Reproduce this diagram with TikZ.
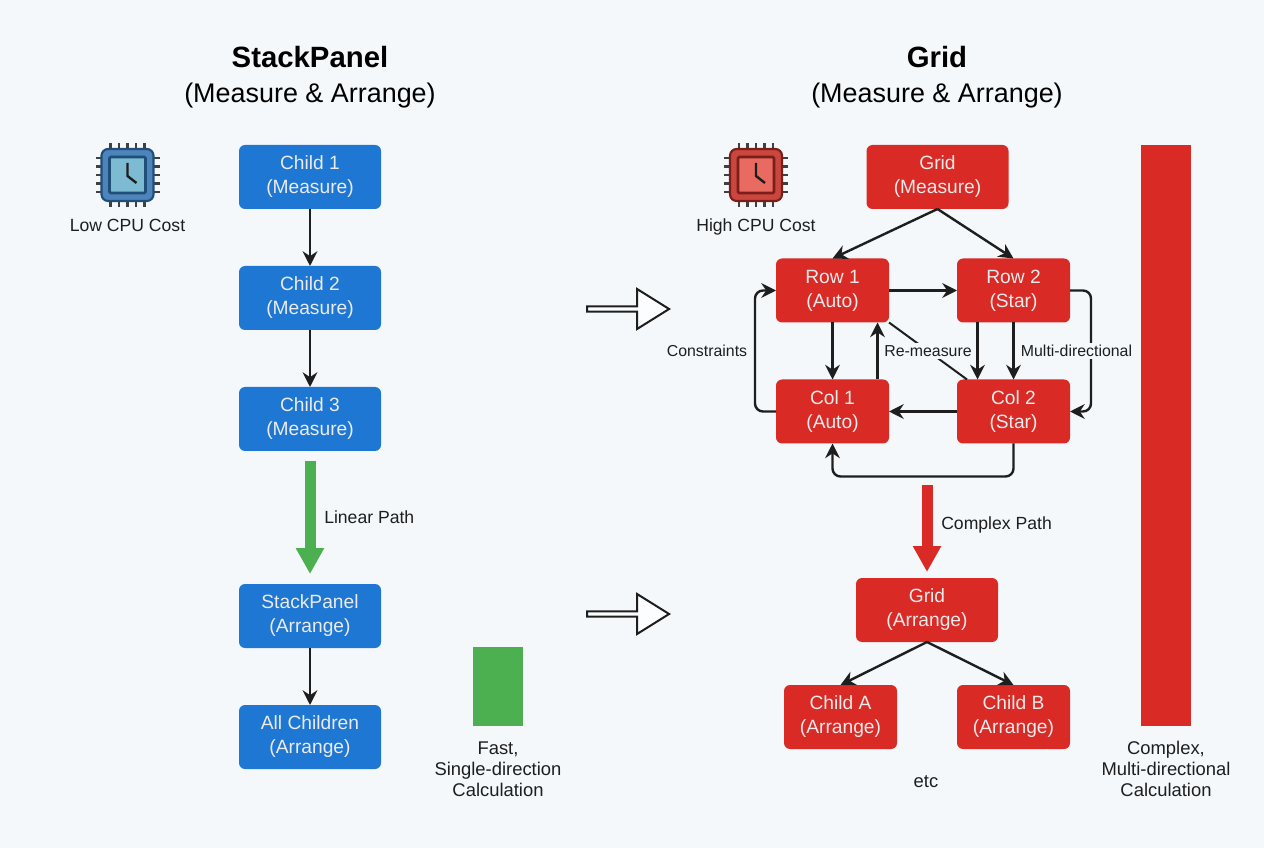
\documentclass[tikz,border=0pt]{standalone}
\usepackage{fontspec}
\setmainfont{Liberation Sans}
\usetikzlibrary{positioning,arrows.meta,shapes.arrows,calc}
\definecolor{pagebg}{HTML}{F4F8FB}
\definecolor{stackblue}{HTML}{1F77D4}
\definecolor{gridred}{HTML}{DA2A26}
\definecolor{fastgreen}{HTML}{4CAF50}
\definecolor{inkdark}{HTML}{1E1E1E}
\definecolor{chipblue}{HTML}{4D84BC}
\definecolor{chipblueedge}{HTML}{1F4E79}
\definecolor{chipbluein}{HTML}{7DBBD3}
\definecolor{chipred}{HTML}{C9473F}
\definecolor{chipredged}{HTML}{7B1E19}
\definecolor{chipredin}{HTML}{E96A60}
\newcommand{\headtext}[1]{{\bfseries\fontsize{22}{26.25}\selectfont #1}}
\tikzset{
  box/.style={rectangle, rounded corners=4.5pt, minimum height=48pt, inner sep=0pt, outer sep=0pt, align=center,
    text=white!92!black, font=\fontsize{14.4}{18}\selectfont,
    execute at begin node={\leavevmode\rule{0pt}{14pt}}},
  bluebox/.style={box, fill=stackblue, minimum width=106.5pt},
  redbox/.style={box, fill=gridred, minimum width=84.75pt},
  widebox/.style={redbox, minimum width=106.5pt},
  lbl/.style={text=inkdark, align=center, inner sep=0pt, font=\fontsize{13.2}{15.75}\selectfont},
  notelbl/.style={lbl, font=\fontsize{13.8}{15.75}\selectfont},
  smalllbl/.style={lbl, font=\fontsize{11.9}{14}\selectfont},
  gaplbl/.style={smalllbl, fill=pagebg, inner ysep=2pt, inner xsep=1pt},
  conn/.style={draw=inkdark, line width=1.8pt, -{Stealth[length=11pt,width=11pt]}},
  plainconn/.style={draw=inkdark, line width=1.5pt},
  loopconn/.style={conn, rounded corners=6pt},
  bigarrow/.style={line width=8.25pt, -{Triangle[length=19.5pt,width=20pt]}},
  hollow/.style={single arrow, draw=inkdark, fill=white!70!pagebg, line width=1.5pt, inner sep=0pt,
    minimum width=30pt, minimum height=61.5pt, single arrow head extend=5pt, single arrow tip angle=64},
  title/.style={text=black, align=center, inner sep=0pt, font=\fontsize{20.2}{26.25}\selectfont},
  pics/chip/.style n args={3}{code={
    \foreach \p in {-17,-8.5,0,8.5,17} {
      \draw[inkdark!85, line width=1.6pt] (\p,-32) -- (\p,32);
      \draw[inkdark!85, line width=1.6pt] (-32,\p) -- (32,\p);
    }
    \draw[#2, fill=#1, line width=1.6pt, rounded corners=5pt] (-26,-26) rectangle (26,26);
    \draw[#2, fill=#3, line width=2pt, rounded corners=1pt] (-18,-18) rectangle (18,18);
    \draw[inkdark, line width=1.8pt] (0,-12) -- (0,1) -- (9,8);
  }},
}

\begin{document}
\begin{tikzpicture}[x=0.75pt, y=-0.75pt, node distance=42.75pt]

    \fill[pagebg] (0,0) rectangle (1264,848);
    \useasboundingbox (0,0) rectangle (1264,848);

    \node[title] (stacktitle) at (310,77) {\headtext{StackPanel}\\(Measure \& Arrange)};
    \node[title] (gridtitle) at (937,77) {\headtext{Grid}\\(Measure \& Arrange)};

    \pic at (127.5,175) {chip={chipblue}{chipblueedge}{chipbluein}};
    \pic at (756,175) {chip={chipred}{chipredged}{chipredin}};
    \node[lbl] (lowcost) at (127.5,225) {Low CPU Cost};
    \node[lbl] (highcost) at (756,227) {High CPU Cost};

    \node[bluebox] (c1) at (310,177) {Child 1\\(Measure)};
    \node[bluebox, below=of c1] (c2) {Child 2\\(Measure)};
    \node[bluebox, below=of c2] (c3) {Child 3\\(Measure)};
    \node[bluebox, below=99.75pt of c3] (sa) {StackPanel\\(Arrange)};
    \node[bluebox, below=of sa] (all) {All Children\\(Arrange)};

    \draw[conn] (c1) -- (c2);
    \draw[conn] (c2) -- (c3);
    \draw[conn] (sa) -- (all);
    \draw[bigarrow, draw=fastgreen, shorten <=7.5pt, shorten >=7.5pt] (c3) -- (sa);
    \node[lbl, anchor=west] (linear) at (324,517) {Linear Path};

    \node[widebox] (gm) at (937.5,177) {Grid\\(Measure)};
    \node[redbox] (r1) at (832.5,290.5) {Row 1\\(Auto)};
    \node[redbox, right=51pt of r1] (r2) {Row 2\\(Star)};
    \node[redbox, below=of r1] (k1) {Col 1\\(Auto)};
    \node[redbox, below=of r2] (k2) {Col 2\\(Star)};

    \draw[conn] (gm.south) -- (r1.north);
    \draw[conn] (gm.south) -- (r2.north);
    \draw[conn] (r1) -- (r2);
    \draw[conn] (k2) -- (k1);
    \draw[conn] (r1) -- (k1);
    \draw[conn] (r2) -- (k2);
    \draw[conn] ([xshift=33.75pt]k1.north) -- ([xshift=33.75pt]r1.south);
    \draw[conn] ([xshift=-27pt]r2.south) -- ([xshift=-27pt]k2.north);
    \draw[plainconn] (r1.south east) -- ([xshift=7.5pt]k2.north west);
    \draw[loopconn] (k1.west) -- ++(-21,0) |- (r1.west);
    \draw[loopconn] (r2.east) -- ++(21,0) |- (k2.east);
    \draw[loopconn] (k2.south) -- ++(0,33) -| (k1.south);

    \node[smalllbl] (constraints) at (707,351) {Constraints};
    \node[gaplbl] (remeasure) at (928,351) {Re-measure};
    \node[gaplbl] (multi) at (1076.5,351) {Multi-directional};

    \coordinate (cpath) at (927,485);
    \node[widebox] (ga) at (927,610) {Grid\\(Arrange)};
    \node[redbox] (ca) at (840.5,717) {Child A\\(Arrange)};
    \node[redbox] (cb) at (1013.5,717) {Child B\\(Arrange)};

    \draw[bigarrow, draw=gridred, shorten >=4.5pt] (cpath) -- (ga);
    \draw[conn] (ga.south) -- (ca.north);
    \draw[conn] (ga.south) -- (cb.north);
    \node[lbl, anchor=west] (complex) at (941,525) {Complex Path};

    \node[hollow] (h1) at (626,309) {};
    \node[hollow] (h2) at (626,614) {};

    \fill[fastgreen] (473,647) rectangle (523,726);
    \fill[gridred] (1141,145) rectangle (1191,726);

    \node[notelbl] (fast) at (498,769) {Fast,\\Single-direction\\Calculation};
    \node[notelbl] (slow) at (1166,769) {Complex,\\Multi-directional\\Calculation};
    \node[notelbl] (etc) at (926,782) {etc};

\end{tikzpicture}
\end{document}
